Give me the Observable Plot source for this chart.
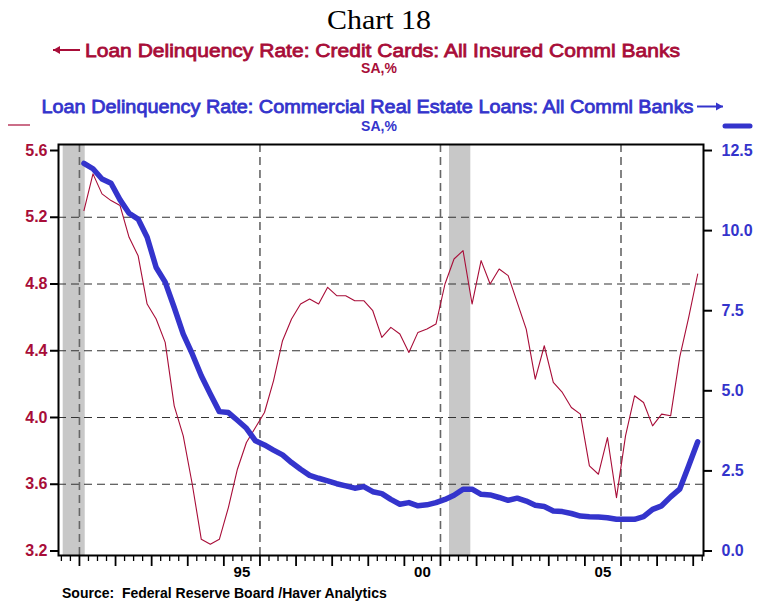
<!DOCTYPE html>
<html>
<head>
<meta charset="utf-8">
<script src="https://cdn.jsdelivr.net/npm/d3@7"></script>
<script src="https://cdn.jsdelivr.net/npm/@observablehq/plot@0.6"></script>
<style>
  html, body { margin: 0; padding: 0; background: #fff; }
  body { width: 758px; height: 603px; overflow: hidden; font-family: "Liberation Sans", Arial, sans-serif; }
  #header { display: block; }
  #chart { height: 440px; }
  #chart svg { display: block; overflow: visible; }
  #source { position: absolute; left: 62px; top: 585px; font: bold 14px "Liberation Sans", Arial, sans-serif; color: #000; white-space: pre; }
</style>
</head>
<body>
<svg id="header" width="758" height="140"></svg>
<div id="chart"></div>
<div id="source"></div>
<script>
// ---------------- DATA ----------------
const title = "Chart 18";
const seriesLeftName = "Loan Delinquency Rate: Credit Cards: All Insured Comml Banks";
const seriesRightName = "Loan Delinquency Rate: Commercial Real Estate Loans: All Comml Banks";
const unitsLabel = "SA,%";
const sourceText = "Source:  Federal Reserve Board /Haver Analytics";

const startYear = 1991; // first quarter 1991Q1, quarterly through 2008Q1

// Credit card delinquency rate (left axis, %)
const creditCards = [
  5.24, 5.46, 5.34, 5.30,   // 1991
  5.27, 5.08, 4.97, 4.68,   // 1992
  4.59, 4.45, 4.07, 3.89,   // 1993
  3.60, 3.27, 3.24, 3.27,   // 1994
  3.46, 3.69, 3.85, 3.94,   // 1995
  4.03, 4.22, 4.46, 4.59,   // 1996
  4.68, 4.71, 4.68, 4.78,   // 1997
  4.73, 4.73, 4.70, 4.70,   // 1998
  4.64, 4.48, 4.54, 4.50,   // 1999
  4.39, 4.51, 4.53, 4.56,   // 2000
  4.80, 4.95, 5.00, 4.68,   // 2001
  4.94, 4.80, 4.89, 4.85,   // 2002
  4.69, 4.53, 4.23, 4.43,   // 2003
  4.21, 4.15, 4.06, 4.02,   // 2004
  3.71, 3.66, 3.88, 3.52,   // 2005
  3.89, 4.13, 4.09, 3.95,   // 2006
  4.02, 4.01, 4.36, 4.60,   // 2007
  4.86                      // 2008
];

// Commercial real estate loan delinquency rate (right axis, %)
const creLoans = [
  12.10, 11.93, 11.61, 11.48, // 1991
  10.96, 10.54, 10.36, 9.79,  // 1992
  8.85, 8.39, 7.60, 6.77,     // 1993
  6.15, 5.47, 4.90, 4.35,     // 1994
  4.32, 4.08, 3.83, 3.44,     // 1995
  3.31, 3.15, 3.00, 2.76,     // 1996
  2.55, 2.36, 2.27, 2.19,     // 1997
  2.10, 2.03, 1.96, 2.01,     // 1998
  1.85, 1.79, 1.61, 1.46,     // 1999
  1.51, 1.41, 1.44, 1.51,     // 2000
  1.61, 1.74, 1.93, 1.93,     // 2001
  1.77, 1.75, 1.67, 1.58,     // 2002
  1.65, 1.56, 1.43, 1.39,     // 2003
  1.25, 1.23, 1.17, 1.09,     // 2004
  1.07, 1.06, 1.04, 0.99,     // 2005
  0.99, 0.99, 1.07, 1.30,     // 2006
  1.41, 1.69, 1.93, 2.66,     // 2007
  3.41                        // 2008
];

// Recession periods (fractional years)
const recessionStart = [1990.55, 2001.25];
const recessionEnd   = [1991.16, 2001.84];

// Axis definitions
const leftTicks = [3.2, 3.6, 4.0, 4.4, 4.8, 5.2, 5.6];
const leftGrid = [3.6, 4.0, 4.4, 4.8, 5.2];
const rightTicks = [0, 2.5, 5.0, 7.5, 10.0, 12.5];
const xGridYears = [1991, 1996, 2001, 2006];
const xLabelYears = [1995, 2000, 2005];
const xLabelText = ["95", "00", "05"];

// ---------------- COLORS ----------------
const RED = "#A80D38";
const BLUE = "#3434CC";

// ---------------- HEADER ----------------
const hdr = d3.select("#header");
const sans = "'Liberation Sans', Arial, Helvetica, sans-serif";
hdr.append("text").attr("x", 379).attr("y", 29).attr("text-anchor", "middle")
  .attr("font-family", "'Liberation Serif', 'Times New Roman', serif").attr("font-size", 28)
  .attr("textLength", 104).attr("lengthAdjust", "spacingAndGlyphs").attr("fill", "#000").text(title);

function heavyText(x, y, txt, color, len) {
  hdr.append("text").attr("x", x).attr("y", y)
    .attr("font-family", sans).attr("font-size", 19)
    .attr("fill", color).attr("stroke", color).attr("stroke-width", 0.8)
    .attr("textLength", len).attr("lengthAdjust", "spacingAndGlyphs").text(txt);
}
function arrow(x1, x2, y, color, dir) {
  hdr.append("line").attr("x1", x1).attr("x2", x2).attr("y1", y).attr("y2", y)
    .attr("stroke", color).attr("stroke-width", 2);
  const tip = dir < 0 ? x1 : x2;
  const back = tip - dir * 7;
  hdr.append("path").attr("d", `M${tip},${y}L${back},${y - 4}L${back},${y + 4}Z`).attr("fill", color);
}
arrow(53, 80, 50, RED, -1);
heavyText(85, 56.5, seriesLeftName, RED, 595);
hdr.append("text").attr("x", 379).attr("y", 73).attr("text-anchor", "middle")
  .attr("font-family", sans).attr("font-weight", "bold").attr("font-size", 14)
  .attr("fill", RED).text(unitsLabel);
heavyText(41.5, 113, seriesRightName, BLUE, 652);
arrow(697, 723, 106.5, BLUE, 1);
hdr.append("text").attr("x", 379).attr("y", 131).attr("text-anchor", "middle")
  .attr("font-family", sans).attr("font-weight", "bold").attr("font-size", 14)
  .attr("fill", BLUE).text(unitsLabel);
// legend swatches
hdr.append("line").attr("x1", 8).attr("x2", 30).attr("y1", 125).attr("y2", 125).attr("stroke", RED).attr("stroke-width", 1.2);
hdr.append("line").attr("x1", 725).attr("x2", 750).attr("y1", 126).attr("y2", 126).attr("stroke", BLUE).attr("stroke-width", 5).attr("stroke-linecap", "round");

d3.select("#source").text(sourceText);

// ---------------- CHART ----------------
const Y0 = 3.2, Y1 = 5.6, R0 = 0, R1 = 12.5;
const toLeft = v => Y0 + (v - R0) * (Y1 - Y0) / (R1 - R0);
const fromLeft = d => R0 + (d - Y0) * (R1 - R0) / (Y1 - Y0);
const quarterTime = i => startYear + Math.floor(i / 4) + ((i % 4) + 0.5) / 4;

const rows = creditCards.map((v, i) => ({ t: quarterTime(i), cc: v, cre: toLeft(creLoans[i]) }));
const recessions = recessionStart.map((s, i) => ({ x1: s, x2: recessionEnd[i] }));

const xDomain = [1990.42, 2008.285];
const yDomain = [3.173, 5.636];

const quarterTicks = d3.range(1990.5, 2008.26, 0.25).filter(d => Math.abs(d - Math.round(d)) > 0.01);
const yearTicks = d3.range(1991, 2009, 1);

const chart = Plot.plot({
  width: 758,
  height: 440,
  marginLeft: 58,
  marginRight: 55,
  marginTop: 4,
  marginBottom: 25,
  style: { fontFamily: sans, background: "transparent", overflow: "visible" },
  x: { type: "linear", domain: xDomain },
  y: { domain: yDomain },
  marks: [
    Plot.rect(recessions, { x1: "x1", x2: "x2", y1: yDomain[0], y2: yDomain[1], fill: "#c8c8c8" }),
    Plot.ruleY(leftGrid, { stroke: "#333", strokeWidth: 1.1, strokeDasharray: "8,5" }),
    Plot.ruleX(xGridYears, { stroke: "#666", strokeWidth: 1.6, strokeDasharray: "8,5" }),
    Plot.line(rows, { x: "t", y: "cc", stroke: RED, strokeWidth: 1.1 }),
    Plot.line(rows, { x: "t", y: "cre", stroke: BLUE, strokeWidth: 5.5, strokeLinejoin: "round", strokeLinecap: "round" }),
    Plot.axisY(leftTicks, {
      anchor: "left", tickSize: 8, tickPadding: 3, stroke: "#000", strokeWidth: 2,
      fill: RED, fontWeight: "bold", fontSize: 16, tickFormat: d => d.toFixed(1), label: null
    }),
    Plot.axisY(rightTicks.map(toLeft), {
      anchor: "right", tickSize: 8, tickPadding: 10, stroke: "#000", strokeWidth: 2,
      fill: BLUE, fontWeight: "bold", fontSize: 16, tickFormat: d => fromLeft(d).toFixed(1), label: null
    }),
    Plot.axisX(quarterTicks, { anchor: "bottom", tickSize: 6, stroke: "#000", strokeWidth: 1.3, tickFormat: () => "", label: null }),
    Plot.axisX(yearTicks, { anchor: "bottom", tickSize: 11, stroke: "#000", strokeWidth: 1.8, tickFormat: () => "", label: null }),
    Plot.axisX(xLabelYears.map(y => y + 0.5), {
      anchor: "bottom", tickSize: 0, tickPadding: 11, fill: "#000", fontWeight: "bold", fontSize: 15,
      tickFormat: (d, i) => xLabelText[i], label: null
    }),
    Plot.frame({ stroke: "#000", strokeWidth: 2 })
  ]
});
document.getElementById("chart").appendChild(chart);
</script>
</body>
</html>
